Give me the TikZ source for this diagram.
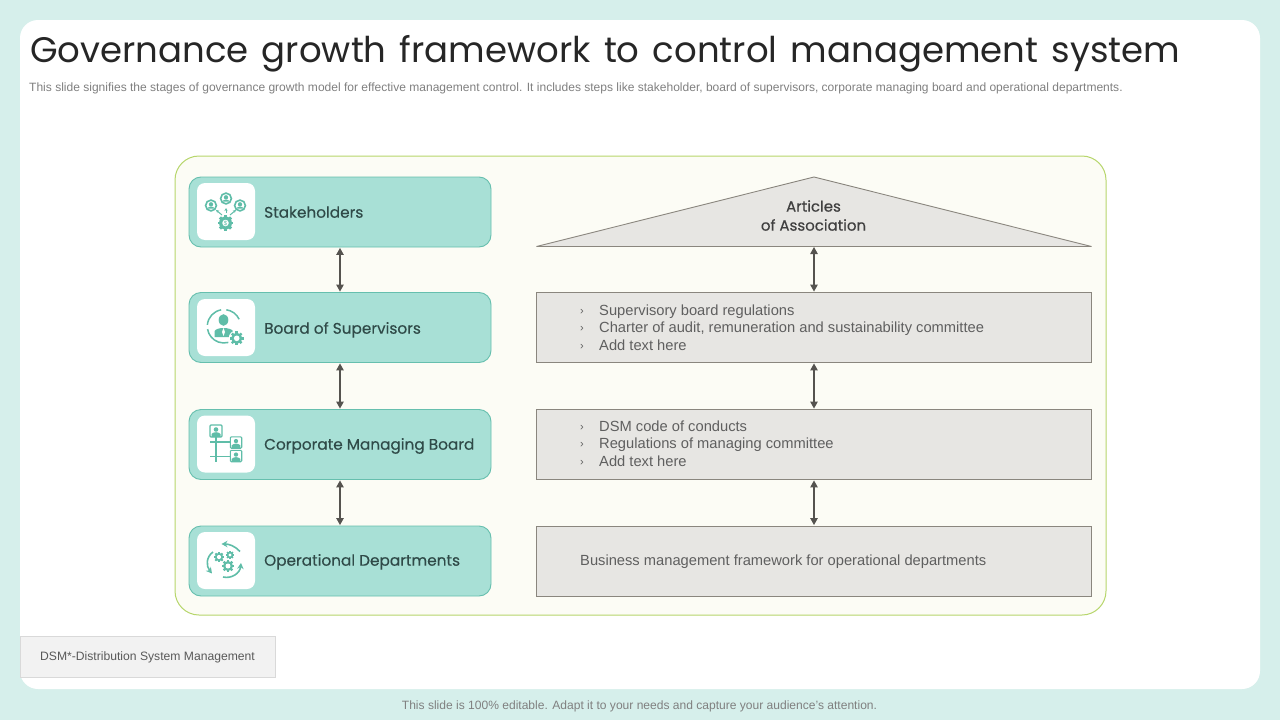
\documentclass[tikz,border=0pt]{standalone}
\usepackage{fontspec}
\setmainfont{Liberation Sans}
\newfontfamily\geo{Poppins}
\newfontfamily\geotitle[WordSpace=1.4]{Poppins}
\newfontfamily\geob[FakeBold=0.35]{Poppins}
\usetikzlibrary{arrows.meta,calc}
\definecolor{pagebg}{HTML}{D6EFEB}
\definecolor{panelbg}{HTML}{FCFCF5}
\definecolor{panelline}{HTML}{B7D66C}
\definecolor{tealfill}{HTML}{A8E0D6}
\definecolor{tealline}{HTML}{66BFAE}
\definecolor{icon}{HTML}{5FBDA8}
\definecolor{greyfill}{HTML}{E7E6E3}
\definecolor{greyline}{HTML}{8A867E}
\definecolor{arrowc}{HTML}{55534F}
\definecolor{darktxt}{HTML}{2F4A48}
\definecolor{bodytxt}{HTML}{5F5F5F}
\tikzset{
  stagebox/.style={draw=tealline,fill=tealfill,line width=0.9pt,rounded corners=12pt,minimum width=302pt,minimum height=70pt,inner sep=0pt},
  tile/.style={fill=white,rounded corners=8pt,minimum width=58pt,minimum height=57pt,inner sep=0pt},
  stagetxt/.style={anchor=base west,inner sep=0pt,text=darktxt,font=\geob\fontsize{15.3}{19}\selectfont},
  greybox/.style={draw=greyline,fill=greyfill,line width=0.9pt,minimum width=555.5pt,minimum height=70pt,inner sep=0pt},
  listtxt/.style={anchor=base west,inner sep=0pt,text=bodytxt,font=\fontsize{14.7}{17}\selectfont},
  bul/.style={anchor=base,inner sep=0pt,text=bodytxt,font=\fontsize{11}{11}\selectfont},
  link/.style={draw=arrowc,line width=1.1pt,{Triangle[length=7pt,width=7.5pt]}-{Triangle[length=7pt,width=7.5pt]},shorten <=0.5pt,shorten >=0.5pt},
  ic/.style={draw=icon,line width=1.2pt,fill=none},
}
\newcommand{\persona}[3]{%
  \draw[icon,line width=1.6pt,fill=white] (#1,#2) circle (#3);
  \fill[icon] (#1,#2-#3*0.22) circle (#3*0.4);
  \fill[icon] (#1-#3*0.75,#2+#3*0.6) .. controls (#1-#3*0.4,#2+#3*0.05) and (#1+#3*0.4,#2+#3*0.05) .. (#1+#3*0.75,#2+#3*0.6) -- cycle;
}
\newcommand{\cog}[3]{%
  \foreach \a in {0,45,...,315}{
    \fill[icon,rotate around={\a:(#1,#2)}] (#1-#3*0.22,#2-#3*1.22) rectangle (#1+#3*0.22,#2);
  }
  \fill[icon] (#1,#2) circle (#3);
  \fill[white] (#1,#2) circle (#3*0.5);
}
\newcommand{\frameperson}[3]{%
  \draw[icon,line width=1.1pt,fill=white,rounded corners=1pt] (#1-#3,#2-#3) rectangle (#1+#3,#2+#3);
  \fill[icon] (#1,#2-#3*0.25) circle (#3*0.38);
  \fill[icon] (#1-#3*0.75,#2+#3) -- (#1-#3*0.75,#2+#3*0.5) .. controls (#1-#3*0.4,#2+#3*0.1) and (#1+#3*0.4,#2+#3*0.1) .. (#1+#3*0.75,#2+#3*0.5) -- (#1+#3*0.75,#2+#3) -- cycle;
}
\begin{document}
\begin{tikzpicture}[x=1pt,y=-1pt]
\useasboundingbox (0,0) rectangle (1280,720);
\fill[pagebg] (0,0) rectangle (1280,720);
\fill[white,rounded corners=18pt] (20,20) rectangle (1260,689);
\node[anchor=base west,inner sep=0pt,text=black!85,font=\geotitle\fontsize{35.5}{44}\selectfont] (title) at (30,62) {Governance growth framework to control management system};
\node[anchor=base west,inner sep=0pt,text=black!50,font=\fontsize{12.03}{14}\selectfont] (sub) at (29,91.5) {This slide signifies the stages of governance growth model for effective  management control. It includes steps like stakeholder, board of supervisors, corporate managing board and operational departments.};
\node[draw=panelline,fill=panelbg,line width=1pt,rounded corners=24pt,minimum width=931pt,minimum height=459pt,inner sep=0pt] (panel) at (640.5,385.5) {};
% left column
\node[stagebox] (s1) at (340,212) {};
\node[stagebox] (s2) at (340,327.5) {};
\node[stagebox] (s3) at (340,444.5) {};
\node[stagebox] (s4) at (340,561) {};
\node[tile] (t1) at (226,211.5) {};
\node[tile] (t2) at (226,327.5) {};
\node[tile] (t3) at (226,444) {};
\node[tile] (t4) at (226,560.5) {};
\node[stagetxt] (l1) at (264,217.7) {Stakeholders};
\node[stagetxt] (l2) at (264,333.7) {Board of Supervisors};
\node[stagetxt] (l3) at (264,449.7) {Corporate Managing Board};
\node[stagetxt] (l4) at (264,565.7) {Operational Departments};
\draw[link] (s1.south) -- (s2.north);
\draw[link] (s2.south) -- (s3.north);
\draw[link] (s3.south) -- (s4.north);
% icon 1
\persona{211}{205.5}{5.4}
\persona{226}{198.5}{5.4}
\persona{240}{205.5}{5.4}
\cog{225.5}{223}{6.5}
\node[inner sep=0pt,text=icon,font=\fontsize{6}{6}\selectfont] (dollar) at (225.5,223) {\$};
\draw[icon,line width=1pt,-{Stealth[length=3pt,width=3pt]}] (222,215) -- (216,210);
\draw[icon,line width=1pt,-{Stealth[length=3pt,width=3pt]}] (226,213) -- (226,208);
\draw[icon,line width=1pt,-{Stealth[length=3pt,width=3pt]}] (230,215) -- (236,210);
% icon 2
\draw[ic,line width=1.5pt] (224,326.3) ++(-175:16.7) arc[start angle=-175,end angle=-100,radius=16.7];
\draw[ic,line width=1.5pt] (224,326.3) ++(-82:16.7) arc[start angle=-82,end angle=-25,radius=16.7];
\draw[ic,line width=1.5pt] (224,326.3) ++(-190:16.7) arc[start angle=-190,end angle=-285,radius=16.7];
\fill[icon] (223.5,320) ellipse (4.8 and 5.8);
\fill[icon] (214.5,337) -- (214.5,331) .. controls (217,327) and (230,327) .. (233,331) -- (233,337) -- cycle;
\fill[white] (223.5,328) -- (225,332) -- (223.5,336) -- (222,332) -- cycle;
\fill[white] (236.7,338.3) circle (8);
\cog{236.7}{338.3}{5.6}
% icon 3
\frameperson{216}{431}{6}
\frameperson{236}{442.5}{5.7}
\frameperson{236}{456}{5.7}
\draw[ic] (216,437) -- (216,462);
\draw[ic] (210,442) -- (230,442);
\draw[ic] (210,456.5) -- (230,456.5);
% icon 4
\cog{219}{557}{4.2}
\cog{230}{555}{3.4}
\cog{228}{566}{5}
\draw[icon,line width=1.6pt,-{Stealth[length=6pt,width=6.5pt]}] (240,551.5) .. controls (235,546) and (229,544) .. (221.5,544);
\draw[icon,line width=1.6pt,-{Stealth[length=6pt,width=6.5pt]}] (213,552) .. controls (206,557) and (206,566) .. (212,573.5);
\draw[icon,line width=1.6pt,-{Stealth[length=6pt,width=6.5pt]}] (223,577) .. controls (232,579) and (240,573) .. (241,563);
% right column
\coordinate (apex) at (814,177);
\coordinate (trib) at (814,246.5);
\draw[greyline,fill=greyfill,line width=0.9pt,line join=bevel] (apex) -- (1091.5,246.5) -- (536.5,246.5) -- cycle;
\node[align=center,inner sep=0pt,text=black!75,font=\geob\fontsize{15}{19}\selectfont] (art) at (813.5,215.5) {Articles\\of Association};
\node[greybox] (r1) at (814,327.5) {};
\node[greybox] (r2) at (814,444.5) {};
\node[greybox] (r3) at (814,561) {};
\draw[link] (trib) -- (r1.north);
\draw[link] (r1.south) -- (r2.north);
\draw[link] (r2.south) -- (r3.north);
\node[bul] (b11) at (582,314) {›};
\node[bul] (b12) at (582,331.5) {›};
\node[bul] (b13) at (582,349) {›};
\node[listtxt] (a11) at (599,315) {Supervisory board regulations};
\node[listtxt] (a12) at (599,332.8) {Charter of audit, remuneration and sustainability committee};
\node[listtxt] (a13) at (599,350) {Add text here};
\node[bul] (b21) at (582,430) {›};
\node[bul] (b22) at (582,447.5) {›};
\node[bul] (b23) at (582,465) {›};
\node[listtxt] (a21) at (599,431) {DSM code of conducts};
\node[listtxt] (a22) at (599,448.8) {Regulations of managing committee};
\node[listtxt] (a23) at (599,466) {Add text here};
\node[listtxt] (a31) at (580,565) {Business management framework for operational departments};
% notes
\node[draw=black!15,fill=black!5,line width=0.8pt,minimum width=255.5pt,minimum height=41.5pt,inner sep=0pt] (note) at (148,656.8) {};
\node[inner sep=0pt,text=black!65,font=\fontsize{12.15}{14}\selectfont] (notetxt) at (147.5,657) {DSM*-Distribution System Management};
\node[inner sep=0pt,text=black!50,font=\fontsize{12.05}{14}\selectfont] (foot) at (639.5,706) {This slide is 100\% editable. Adapt it to your needs and capture your audience’s attention.};
\end{tikzpicture}
\end{document}
